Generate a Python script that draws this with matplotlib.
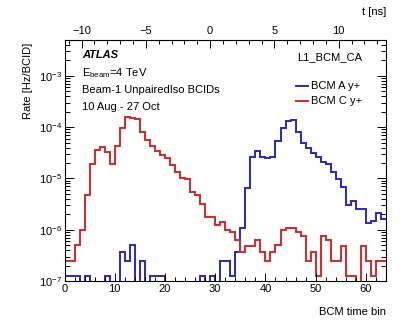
import numpy as np
import matplotlib
matplotlib.use("Agg")
import matplotlib.pyplot as plt
from matplotlib.ticker import LogLocator, MultipleLocator, NullFormatter

plt.rcParams['font.family'] = ['Liberation Sans', 'DejaVu Sans']
plt.rcParams['mathtext.fontset'] = 'custom'
plt.rcParams['mathtext.rm'] = 'Liberation Sans'
plt.rcParams['mathtext.it'] = 'Liberation Sans:italic'
plt.rcParams['mathtext.bf'] = 'Liberation Sans:bold'

# ---- data (rate per BCM time bin) ----
bin_edges = np.arange(0, 65)
bcm_a = [1.24e-7, 1.24e-7, 1.24e-7, 0, 1.24e-7, 0, 0, 0, 1.24e-7, 0,
         0, 3.7e-7, 2.5e-7, 5e-7, 0, 2.5e-7, 0, 1.24e-7, 1.24e-7, 1.24e-7,
         0, 0, 0, 0, 0, 0, 0, 1.24e-7, 0, 1.24e-7,
         0, 2.5e-7, 2.5e-7, 1.24e-7, 3.7e-7, 1.1e-6, 6.4e-6, 2.65e-5, 3.45e-5, 2.65e-5,
         2.45e-5, 2.65e-5, 5.25e-5, 9.6e-5, 1.33e-4, 1.4e-4, 7.9e-5, 5e-5, 4e-5, 3.2e-5,
         2.6e-5, 2.1e-5, 1.9e-5, 1.35e-5, 9.6e-6, 6.9e-6, 3e-6, 3.7e-6, 2.5e-6, 2.5e-6,
         1.37e-6, 1.5e-6, 2.15e-6, 1.6e-6]
bcm_c = [2.5e-7, 2.5e-7, 5e-7, 1e-6, 4.75e-6, 1.9e-5, 3.6e-5, 4.1e-5, 3.3e-5, 1.9e-5,
         4.2e-5, 9.6e-5, 1.55e-4, 1.5e-4, 1.45e-4, 8e-5, 5.5e-5, 4.2e-5, 3.5e-5, 2.9e-5,
         2.5e-5, 1.85e-5, 1.35e-5, 1e-5, 9.6e-6, 5.5e-6, 4.75e-6, 3.2e-6, 1.75e-6, 1.75e-6,
         1.23e-6, 1.43e-6, 1e-6, 9.1e-7, 6.3e-7, 3.7e-7, 4.8e-7, 4.8e-7, 6.3e-7, 3.7e-7,
         2.5e-7, 3.7e-7, 5e-7, 1e-6, 1.1e-6, 1.1e-6, 9.1e-7, 7.5e-7, 2.5e-7, 3.7e-7,
         1.24e-7, 7.5e-7, 6.3e-7, 2.5e-7, 2.5e-7, 4.8e-7, 1.24e-7, 1.24e-7, 0, 4.8e-7,
         2.5e-7, 1.24e-7, 2.5e-7, 2.5e-7]
series_labels = ["BCM A y+", "BCM C y+"]
ns_per_bin = 25.0 / 64.0
zero_bin = 29

W, H = 407, 335
fig = plt.figure(figsize=(W / 100, H / 100), dpi=100)
L, R, T, B = 64.5, 386, 40, 281
ax = fig.add_axes([L / W, 1 - B / H, (R - L) / W, (B - T) / H])

fs = 8.0
blue = '#2424e0'
red = '#e02424'

def safe(v):
    v = np.asarray(v, dtype=float)
    return np.where(v > 0, v, 1e-12)

ax.stairs(safe(bcm_a), bin_edges, color=blue, lw=1.4, baseline=None)
ax.stairs(safe(bcm_c), bin_edges, color=red, lw=1.4, baseline=None)

ax.set_yscale('log')
ax.set_ylim(1e-7, 5e-3)
ax.set_xlim(0, 64)
ax.xaxis.set_major_locator(MultipleLocator(10))
ax.xaxis.set_minor_locator(MultipleLocator(2))
ax.yaxis.set_major_locator(LogLocator(base=10, numticks=20))
ax.yaxis.set_minor_locator(LogLocator(base=10, subs=np.arange(2, 10), numticks=20))
ax.yaxis.set_minor_formatter(NullFormatter())
ax.tick_params(which='both', direction='in', right=True, top=False, labelsize=fs, width=0.7)
ax.tick_params(axis='y', which='major', length=6.5, pad=2)
ax.tick_params(axis='y', which='minor', length=3.5)
ax.tick_params(axis='x', which='major', length=6, pad=2)
ax.tick_params(axis='x', which='minor', length=3)
for s in ax.spines.values():
    s.set_linewidth(0.7)

ax2 = ax.twiny()
ax2.set_xlim(-zero_bin * ns_per_bin, (64 - zero_bin) * ns_per_bin)
ax2.xaxis.set_major_locator(MultipleLocator(5))
ax2.xaxis.set_minor_locator(MultipleLocator(1))
ax2.tick_params(which='both', direction='in', labelsize=fs, width=0.7)
ax2.tick_params(which='major', length=6, pad=3)
ax2.tick_params(which='minor', length=3)

def ax_xy(px, py):
    return (px - L) / (R - L), (B - py) / (B - T)

def atext(px, py, s, **kw):
    x, y = ax_xy(px, py)
    ax.text(x, y, s, transform=ax.transAxes, va='center', fontsize=fs, **kw)

atext(82, 55, "ATLAS", fontweight='bold', fontstyle='italic', ha='left')
atext(82, 73, r"E$_{\mathrm{beam}}$=4 TeV", ha='left')
atext(82, 90, "Beam-1 UnpairedIso BCIDs", ha='left')
atext(82, 107, "10 Aug - 27 Oct", ha='left')
atext(362, 57, "L1_BCM_CA", ha='right')

for lab, col, py in [(series_labels[0], blue, 85.7), (series_labels[1], red, 101)]:
    x0, y0 = ax_xy(296, py)
    x1, _ = ax_xy(308, py)
    ax.plot([x0, x1], [y0, y0], transform=ax.transAxes, color=col, lw=1.4, clip_on=False)
    atext(311, py, lab, ha='left')

fig.text(386 / W, 1 - 312 / H, "BCM time bin", ha='right', va='center', fontsize=fs)
fig.text(386 / W, 1 - 12 / H, "t [ns]", ha='right', va='center', fontsize=fs)
fig.text(28 / W, 1 - 43 / H, "Rate [Hz/BCID]", ha='center', va='top', rotation=90, fontsize=fs)

fig.savefig("out.png", dpi=100)
